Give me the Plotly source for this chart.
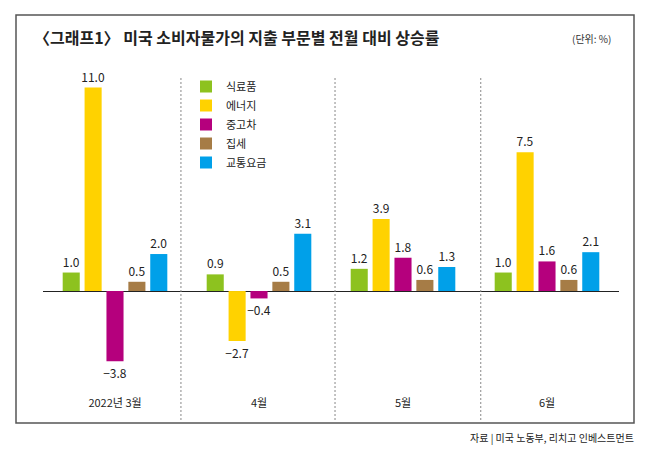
import plotly.graph_objects as go

# categories and series
months = ['2022년 3월', '4월', '5월', '6월']
food = [1.0, 0.9, 1.2, 1.0]
energy = [11.0, -2.7, 3.9, 7.5]
used_cars = [-3.8, -0.4, 1.8, 1.6]
rent = [0.5, 0.5, 0.6, 0.6]
transport = [2.0, 3.1, 1.3, 2.1]

series = [
    ('식료품', food, '#8dc21f'),
    ('에너지', energy, '#ffd200'),
    ('중고차', used_cars, '#b5007d'),
    ('집세', rent, '#a67c46'),
    ('교통요금', transport, '#00a0e9'),
]

FONT = 'Noto Sans CJK KR'

# pixel helpers (plot area 43..619 x 77..390)
L, R, T, B = 43, 619, 77, 390
W, H = 650, 454


def px_x(p):
    return (p - L) / (R - L)


def px_y(p):
    return (B - p) / (B - T)


fig = go.Figure()
for name, vals, color in series:
    fig.add_trace(go.Bar(
        x=months, y=vals, name=name,
        marker=dict(color=color, line=dict(width=0)),
        text=[f'{v:.1f}'.replace('-', '−') for v in vals],
        textposition='outside',
        constraintext='none',
        textfont=dict(family=FONT, size=12, color='#222'),
        cliponaxis=False,
    ))

# dashed separators between months
sep_x = [0.458, 1.528, 2.54]
shapes = []
for sx in sep_x:
    shapes.append(dict(type='line', xref='x', yref='paper',
                       x0=sx, x1=sx, y0=px_y(420), y1=px_y(76),
                       line=dict(color='#888', width=1, dash='2px,2px')))
# outer frame
shapes.append(dict(type='rect', xref='paper', yref='paper',
                   x0=px_x(16), x1=px_x(634), y0=px_y(423), y1=px_y(15),
                   line=dict(color='#555', width=1.5)))

fig.update_layout(
    width=W, height=H,
    margin=dict(l=L, r=W - R, t=T, b=H - B),
    paper_bgcolor='white', plot_bgcolor='white',
    barmode='group', bargap=0.24, bargroupgap=0.22,
    showlegend=True,
    legend=dict(x=px_x(186), y=px_y(72), xanchor='left', yanchor='top',
                font=dict(family=FONT, size=11, color='#222'),
                bgcolor='rgba(0,0,0,0)', tracegroupgap=0),
    xaxis=dict(range=[-0.5, 3.5], showgrid=False, showline=False, ticks='',
               ticklabelstandoff=5,
               tickfont=dict(family=FONT, size=11, color='#222'), fixedrange=True),
    yaxis=dict(range=[-5.35, 11.57], showgrid=False, showticklabels=False,
               zeroline=True, zerolinecolor='#222', zerolinewidth=1.2),
    shapes=shapes,
    annotations=[
        dict(text='<b>〈그래프1〉 미국 소비자물가의 지출 부문별 전월 대비 상승률</b>',
             xref='paper', yref='paper', x=px_x(32), y=px_y(37),
             xanchor='left', yanchor='middle', showarrow=False,
             font=dict(family=FONT, size=16, color='#222')),
        dict(text='(단위: %)', xref='paper', yref='paper',
             x=px_x(613), y=px_y(38), xanchor='right', yanchor='middle',
             showarrow=False, font=dict(family=FONT, size=10, color='#333')),
        dict(text='자료 | 미국 노동부, 리치고 인베스트먼트', xref='paper', yref='paper',
             x=px_x(636), y=px_y(437), xanchor='right', yanchor='middle',
             showarrow=False, font=dict(family=FONT, size=10, color='#222')),
    ],
)

# drop the default page margin so the figure sits at the window origin
fig.write_html('out.html', config={'displayModeBar': False},
               post_script="document.body.style.margin='0';")
